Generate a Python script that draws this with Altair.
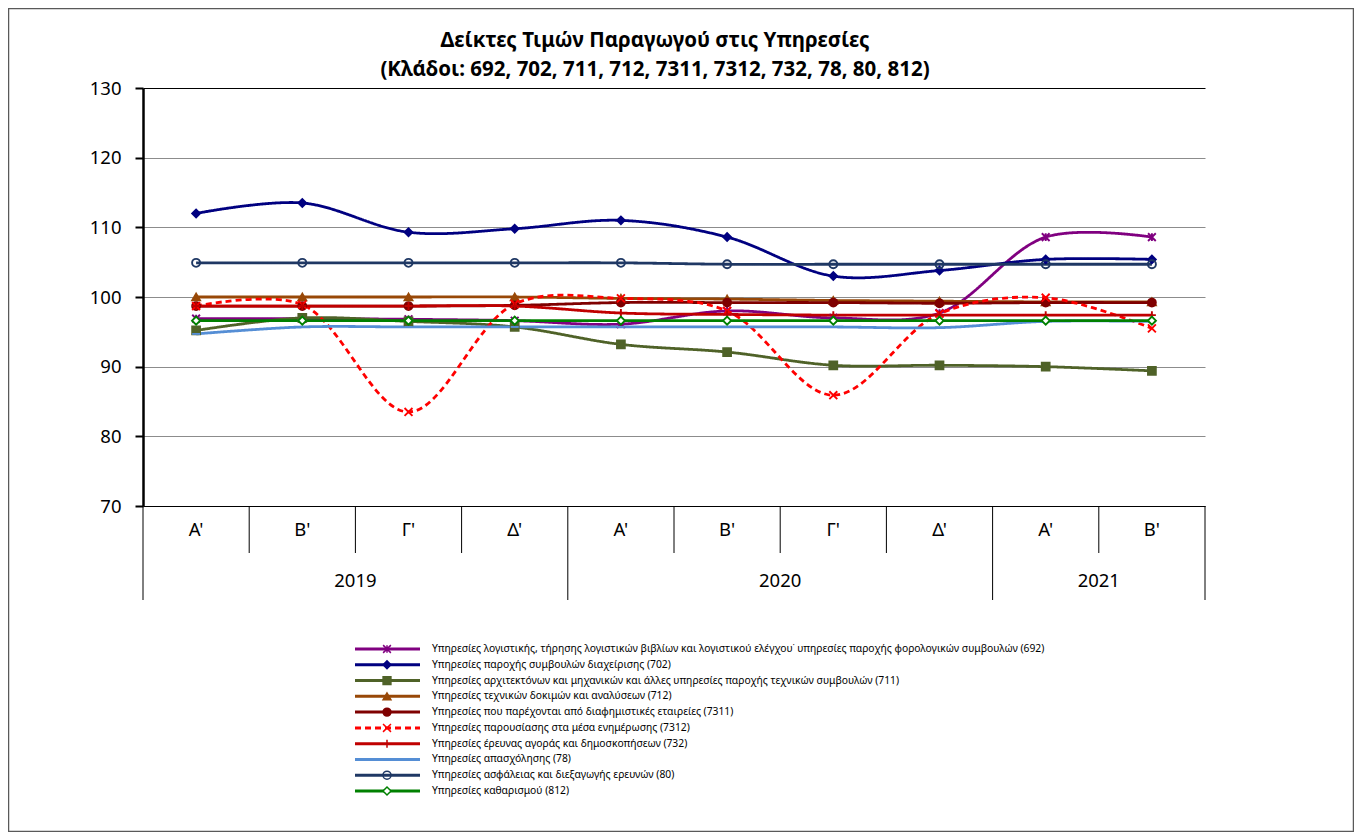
import altair as alt
import pandas as pd

# ---------------- data ----------------
title_lines = ["Δείκτες Τιμών Παραγωγού στις Υπηρεσίες",
               "(Κλάδοι: 692, 702, 711, 712, 7311, 7312, 732, 78, 80, 812)"]
quarters = ["Α'", "Β'", "Γ'", "Δ'", "Α'", "Β'", "Γ'", "Δ'", "Α'", "Β'"]
years = ["2019", "2019", "2019", "2019", "2020", "2020", "2020", "2020", "2021", "2021"]

codes = ["692", "702", "711", "712", "7311", "7312", "732", "78", "80", "812"]
labels = [
    "Υπηρεσίες λογιστικής, τήρησης λογιστικών βιβλίων και λογιστικού ελέγχου˙ υπηρεσίες παροχής φορολογικών συμβουλών (692)",
    "Υπηρεσίες παροχής συμβουλών διαχείρισης (702)",
    "Υπηρεσίες αρχιτεκτόνων και μηχανικών και άλλες υπηρεσίες παροχής τεχνικών συμβουλών (711)",
    "Υπηρεσίες τεχνικών δοκιμών και αναλύσεων (712)",
    "Υπηρεσίες που παρέχονται από διαφημιστικές εταιρείες (7311)",
    "Υπηρεσίες παρουσίασης στα μέσα ενημέρωσης (7312)",
    "Υπηρεσίες έρευνας αγοράς και δημοσκοπήσεων (732)",
    "Υπηρεσίες απασχόλησης (78)",
    "Υπηρεσίες ασφάλειας και διεξαγωγής ερευνών (80)",
    "Υπηρεσίες καθαρισμού (812)",
]

s692 = [96.9, 96.9, 96.8, 96.6, 96.1, 98.0, 97.0, 97.7, 108.6, 108.6]
s702 = [112.0, 113.5, 109.3, 109.8, 111.0, 108.6, 103.0, 103.8, 105.4, 105.4]
s711 = [95.2, 97.0, 96.5, 95.7, 93.2, 92.1, 90.2, 90.2, 90.0, 89.4]
s712 = [100.0, 100.0, 100.0, 100.0, 99.8, 99.7, 99.5, 99.4, 99.3, 99.3]
s7311 = [98.7, 98.7, 98.7, 98.8, 99.2, 99.2, 99.2, 99.1, 99.2, 99.2]
s7312 = [98.7, 98.9, 83.5, 99.0, 99.8, 98.0, 85.9, 97.6, 99.9, 95.5]
s732 = [98.7, 98.7, 98.7, 98.7, 97.7, 97.5, 97.4, 97.4, 97.4, 97.4]
s78 = [94.7, 95.7, 95.7, 95.7, 95.7, 95.7, 95.7, 95.6, 96.5, 96.5]
s80 = [104.9, 104.9, 104.9, 104.9, 104.9, 104.7, 104.7, 104.7, 104.7, 104.7]
s812 = [96.6, 96.6, 96.6, 96.6, 96.6, 96.6, 96.6, 96.6, 96.6, 96.6]
series_values = [s692, s702, s711, s712, s7311, s7312, s732, s78, s80, s812]

# ---------------- styles ----------------
colors = ["#800080", "#000080", "#4F6228", "#984807", "#7F0000",
          "#FF0000", "#C00000", "#558ED5", "#1F3864", "#008000"]
dashes = [[1, 0], [1, 0], [1, 0], [1, 0], [1, 0], [6, 4], [1, 0], [1, 0], [1, 0], [1, 0]]
shapes = ["M-1,-1L1,1M1,-1L-1,1M0,-1L0,1", "diamond", "square", "triangle-up", "circle",
          "M-1,-1L1,1M1,-1L-1,1", "M-1,0L1,0M0,-1L0,1", "M-1,0L1,0", "circle", "diamond"]
fills = ["transparent", "#000080", "#4F6228", "#984807", "#7F0000",
         "transparent", "transparent", "transparent", "transparent", "white"]
sizes = [60, 65, 50, 65, 120, 85, 75, 40, 90, 50]

W, H = 1062, 418
FONT = "Noto Sans"

rows = []
for code, lab, vals in zip(codes, labels, series_values):
    for i, v in enumerate(vals):
        rows.append({"series": code, "label": lab, "i": i, "pos": i + 0.5, "value": v})
df = pd.DataFrame(rows)

qdf = pd.DataFrame({"q": quarters, "pos": [i + 0.5 for i in range(len(quarters))]})
ydf = (pd.DataFrame({"year": years, "pos": [i + 0.5 for i in range(len(years))]})
       .groupby("year", as_index=False)["pos"].mean())
qb = [b for b in range(1, len(quarters)) if years[b] == years[b - 1]]
yb = [0] + [b for b in range(1, len(quarters)) if years[b] != years[b - 1]] + [len(quarters)]
qbdf = pd.DataFrame({"b": qb})
ybdf = pd.DataFrame({"b": yb})
legdf = pd.DataFrame({"series": codes, "label": labels, "r": list(range(len(codes)))})
tdf = pd.DataFrame({"t": ["\n".join(title_lines)]})

xsc = alt.Scale(domain=[0, len(quarters)], nice=False, zero=False)
ysc = alt.Scale(domain=[70, 130], nice=False, zero=False)
csc = alt.Scale(domain=codes, range=colors)
dsc = alt.Scale(domain=codes, range=dashes)
shsc = alt.Scale(domain=codes, range=shapes)
fsc = alt.Scale(domain=codes, range=fills)
szsc = alt.Scale(domain=codes, range=sizes)
lsc = alt.Scale(domain=[0, 9], range=[561, 703], nice=False, zero=False)

base = alt.Chart(df)

lines = base.mark_line(interpolate="catmull-rom", strokeWidth=2.8).encode(
    x=alt.X("pos:Q", scale=xsc,
            axis=alt.Axis(labels=False, ticks=False, grid=False, title=None,
                          domainColor="black", domainWidth=1)),
    y=alt.Y("value:Q", scale=ysc,
            axis=alt.Axis(values=[70, 80, 90, 100, 110, 120, 130], title=None,
                          grid=True,
                          gridColor={"condition": {"test": "datum.value == 130", "value": "black"},
                                     "value": "#8C8C8C"},
                          gridWidth=1.2,
                          domainColor="black", domainWidth=2.5,
                          tickColor="black", tickWidth=2, tickSize=8,
                          labelFontSize=18.5, labelFont=FONT, labelColor="black",
                          labelPadding=14)),
    color=alt.Color("series:N", scale=csc, legend=None),
    strokeDash=alt.StrokeDash("series:N", scale=dsc, legend=None),
    detail="series:N",
    order="i:Q",
)

points = base.mark_point(filled=True, strokeWidth=1.9, opacity=1).encode(
    x=alt.X("pos:Q", scale=xsc),
    y=alt.Y("value:Q", scale=ysc, axis=None),
    shape=alt.Shape("series:N", scale=shsc, legend=None),
    fill=alt.Fill("series:N", scale=fsc, legend=None),
    stroke=alt.Stroke("series:N", scale=csc, legend=None),
    size=alt.Size("series:N", scale=szsc, legend=None),
)

qlabels = alt.Chart(qdf).mark_text(fontSize=18.5, font=FONT, color="black", baseline="middle").encode(
    x=alt.X("pos:Q", scale=xsc), y=alt.value(H + 24), text="q:N")
ylabels = alt.Chart(ydf).mark_text(fontSize=18.5, font=FONT, color="black", baseline="middle").encode(
    x=alt.X("pos:Q", scale=xsc), y=alt.value(H + 75), text="year:N")
qdiv = alt.Chart(qbdf).mark_rule(color="black", strokeWidth=1).encode(
    x=alt.X("b:Q", scale=xsc), y=alt.value(H), y2=alt.value(H + 47))
ydiv = alt.Chart(ybdf).mark_rule(color="black", strokeWidth=1).encode(
    x=alt.X("b:Q", scale=xsc), y=alt.value(H), y2=alt.value(H + 94))

legbase = alt.Chart(legdf)
leg_line = legbase.mark_rule(strokeWidth=3).encode(
    x=alt.value(212), x2=alt.value(277),
    y=alt.Y("r:Q", scale=lsc, axis=None),
    color=alt.Color("series:N", scale=csc, legend=None),
    strokeDash=alt.StrokeDash("series:N", scale=dsc, legend=None),
)
leg_pt = legbase.mark_point(filled=True, strokeWidth=1.5, opacity=1).encode(
    x=alt.value(244),
    y=alt.Y("r:Q", scale=lsc, axis=None),
    shape=alt.Shape("series:N", scale=shsc, legend=None),
    fill=alt.Fill("series:N", scale=fsc, legend=None),
    stroke=alt.Stroke("series:N", scale=csc, legend=None),
    size=alt.Size("series:N", scale=szsc, legend=None),
)
leg_txt = legbase.mark_text(align="left", baseline="middle", fontSize=10.3, font=FONT, color="black").encode(
    x=alt.value(289),
    y=alt.Y("r:Q", scale=lsc, axis=None),
    text="label:N",
)

title = alt.Chart(tdf).mark_text(
    align="center", baseline="top", fontSize=20.5, fontWeight="bold", font=FONT,
    color="black", lineBreak="\n", lineHeight=29,
).encode(x=alt.value(W / 2 - 19), y=alt.value(-57), text="t:N")

border = alt.Chart(pd.DataFrame({"k": [0]})).mark_rect(fill="transparent", stroke="#595959", strokeWidth=1.5).encode(
    x=alt.value(-134.5), x2=alt.value(1210.5), y=alt.value(-79.5), y2=alt.value(743.5))

chart = alt.layer(
    border, title, qdiv, ydiv, qlabels, ylabels, lines, points, leg_line, leg_pt, leg_txt
).resolve_scale(y="independent").properties(
    width=W, height=H,
    autosize=alt.AutoSizeParams(type="none"),
    padding={"left": 135, "top": 80, "right": 149, "bottom": 326},
).configure_view(stroke=None)

chart.save("out.html", embed_options={"renderer": "svg", "actions": False})
